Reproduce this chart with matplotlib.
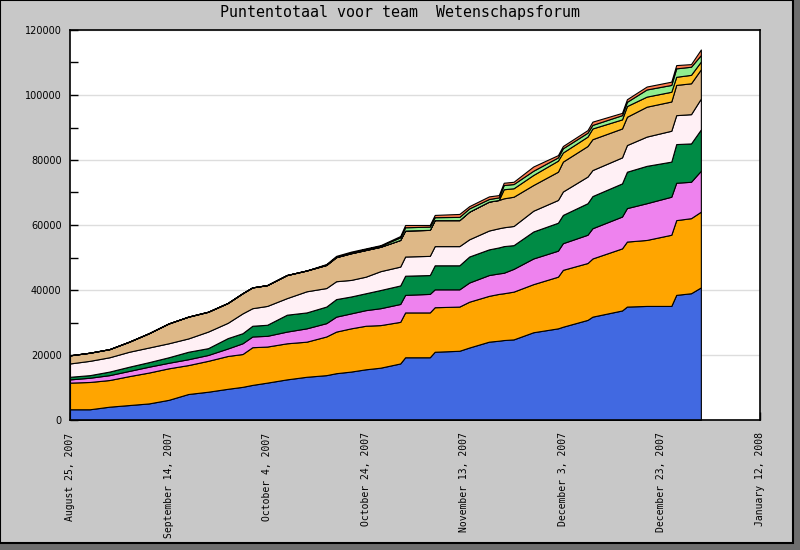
"""
Puntentotaal voor team Wetenschapsforum - stacked area chart
"""
import numpy as np
import matplotlib.pyplot as plt
import matplotlib.patches as mpatches

# days since 25 Aug 2007
days = [0, 4, 8, 12, 16, 20, 24, 28, 32, 35, 37, 40, 44, 48, 52, 54, 57, 60, 63, 67,
        68, 73, 74, 79, 81, 85, 87, 88, 90, 94, 99, 100, 105, 106, 112, 113, 117, 122,
        123, 126, 128]

# upper edge of each layer (x1000 points), bottom to top
top_blue = [3.3, 3.3, 4.1, 4.6, 5.1, 6.2, 8.0, 8.7, 9.6, 10.2, 10.8, 11.5, 12.5, 13.3,
            13.8, 14.4, 14.9, 15.6, 16.1, 17.4, 19.3, 19.3, 21.0, 21.3, 22.3, 24.1, 24.4,
            24.6, 24.8, 27.0, 28.2, 28.7, 30.8, 31.8, 33.7, 34.9, 35.1, 35.1, 38.5, 39.0,
            40.8]
top_orange = [11.5, 11.7, 12.3, 13.5, 14.6, 15.9, 16.9, 18.2, 19.7, 20.3, 22.4, 22.6,
              23.6, 24.1, 25.7, 27.2, 28.2, 29.0, 29.2, 30.2, 33.1, 33.1, 34.7, 34.9,
              36.4, 38.2, 38.8, 39.0, 39.5, 41.8, 44.1, 46.2, 48.3, 49.7, 52.8, 54.9,
              55.4, 57.0, 61.5, 62.1, 64.1]
top_violet = [12.5, 13.0, 13.8, 15.1, 16.4, 17.6, 18.7, 20.0, 22.0, 23.6, 25.7, 25.9,
              27.2, 28.2, 29.8, 31.8, 32.8, 33.8, 34.4, 35.7, 38.5, 38.8, 40.2, 40.2,
              42.3, 44.6, 45.1, 45.3, 46.5, 49.7, 52.1, 54.4, 57.0, 59.0, 62.6, 65.2,
              66.7, 68.7, 73.0, 73.3, 76.7]
top_green = [13.3, 13.8, 14.9, 16.4, 17.8, 19.3, 21.0, 22.1, 25.2, 26.7, 29.0, 29.3,
             32.4, 33.1, 34.9, 37.2, 38.0, 39.0, 40.0, 41.4, 44.4, 44.6, 47.6, 47.6,
             50.3, 52.5, 53.1, 53.5, 53.8, 58.0, 60.7, 63.1, 66.7, 68.9, 72.8, 76.4,
             78.2, 79.5, 84.9, 85.1, 89.4]
top_lavender = [17.4, 18.2, 19.3, 21.0, 22.3, 23.6, 25.1, 27.2, 29.9, 32.8, 34.4, 35.1,
                37.5, 39.6, 40.6, 42.7, 43.1, 44.1, 45.8, 47.2, 50.3, 50.5, 53.5, 53.5,
                55.6, 58.3, 59.0, 59.3, 59.7, 64.4, 67.7, 70.3, 74.9, 76.9, 80.8, 84.6,
                87.2, 89.0, 93.8, 94.1, 98.9]
top_burly = [19.9, 20.7, 21.8, 24.1, 26.7, 29.7, 31.8, 33.3, 36.0, 39.0, 40.8, 41.5,
             44.6, 46.0, 47.7, 50.1, 51.3, 52.3, 53.3, 55.4, 58.3, 58.5, 61.5, 61.5,
             64.1, 67.2, 67.7, 68.2, 68.7, 72.3, 76.4, 79.5, 84.3, 86.4, 89.7, 93.3,
             96.4, 98.0, 103.1, 103.6, 107.9]
# None = member not yet in the team
top_gold = [None] * 27 + [71.0, 71.3, 75.4, 79.8, 82.3, 87.2, 89.7, 92.5, 96.6, 99.5,
                          101.0, 105.6, 106.2, 110.3]
top_lightgreen = [None] * 14 + [47.8, 50.2, 51.5, 52.6, 53.6, 56.2, 59.3, 59.5, 62.4,
                                62.5, 65.1, 68.0, 68.5, 72.3, 72.6, 76.7, 80.8, 83.6,
                                88.4, 90.8, 93.8, 97.9, 101.7, 103.1, 108.2, 108.7, 112.3]
top_coral = [None] * 14 + [48.0, 50.5, 51.8, 52.8, 53.8, 56.6, 60.0, 60.0, 63.1, 63.4,
                           65.8, 68.8, 69.2, 73.0, 73.3, 78.0, 81.5, 84.3, 89.2, 91.8,
                           94.5, 98.7, 102.6, 104.1, 109.2, 109.5, 114.0]

colors = ['#4169E1', '#FFA500', '#EE82EE', '#008B45', '#FFF0F5', '#DEB887',
          '#FFC125', '#90EE90', '#FF7F50']

tick_dates = ['2007-08-25', '2007-09-14', '2007-10-04', '2007-10-24', '2007-11-13',
              '2007-12-03', '2007-12-23', '2008-01-12']
tick_labels = ['August 25, 2007', 'September 14, 2007', 'October 4, 2007',
               'October 24, 2007', 'November 13, 2007', 'December 3, 2007',
               'December 23, 2007', 'January 12, 2008']

# build the stack, a missing layer sits on the one below it
x = np.datetime64('2007-08-25') + np.array(days) * np.timedelta64(1, 'D')
tops = []
prev = np.zeros(len(days))
for t in [top_blue, top_orange, top_violet, top_green, top_lavender, top_burly,
          top_gold, top_lightgreen, top_coral]:
    arr = np.array([np.nan if v is None else v for v in t], dtype=float)
    arr = np.where(np.isnan(arr), prev, arr)
    tops.append(arr * 1000)
    prev = arr

fig = plt.figure(figsize=(8, 5.5), dpi=100, facecolor='#6E6E6E')
# light panel with black border, dark shadow shows right and below
fig.patches.append(mpatches.Rectangle((0, 7 / 550), 793 / 800, 543 / 550,
                                      transform=fig.transFigure, facecolor='#C8C8C8',
                                      edgecolor='black', linewidth=1.5, zorder=0))

ax = fig.add_axes([70 / 800, 1 - 420 / 550, 690 / 800, 390 / 550])
ax.set_zorder(2)
ax.set_facecolor('white')
ax.set_axisbelow(True)

lower = np.zeros(len(days))
for top, c in zip(tops, colors):
    ax.fill_between(x, lower, top, facecolor=c, edgecolor='black', linewidth=0.8)
    lower = top

ax.set_xlim(np.datetime64('2007-08-25'), np.datetime64('2008-01-12'))
ax.set_ylim(0, 120000)

ax.set_yticks(np.arange(0, 120001, 20000))
ax.set_yticks(np.arange(10000, 120000, 20000), minor=True)
ax.set_yticklabels([str(v) for v in range(0, 120001, 20000)], fontsize=7,
                   family='DejaVu Sans')
ax.grid(axis='y', which='major', color='#DDDDDD', linewidth=1)
ax.tick_params(axis='y', which='both', direction='in', length=6, width=1, pad=6)

ax.set_xticks([np.datetime64(d) for d in tick_dates])
ax.set_xticklabels(tick_labels, rotation=90, va='top', ha='center', fontsize=7,
                   family='DejaVu Sans Mono')
ax.tick_params(axis='x', direction='in', length=6, width=1, pad=9)

for s in ax.spines.values():
    s.set_linewidth(1.2)
    s.set_color('black')

fig.text(0.5, 1 - 12 / 550, 'Puntentotaal voor team  Wetenschapsforum', ha='center',
         va='center', fontsize=10.8, family='DejaVu Sans Mono', zorder=3)

plt.savefig('out.png', dpi=100, facecolor=fig.get_facecolor())
